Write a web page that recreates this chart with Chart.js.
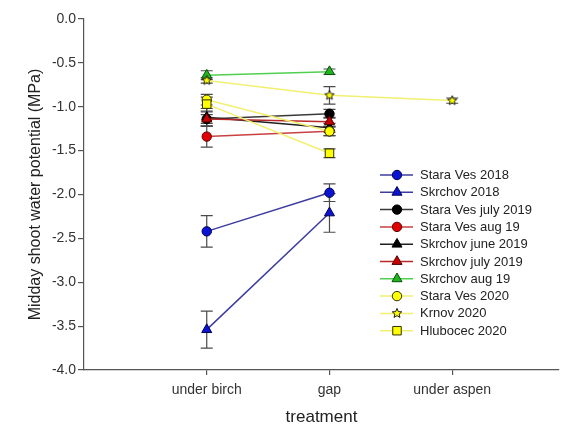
<!DOCTYPE html>
<html>
<head>
<meta charset="utf-8">
<script src="https://cdn.jsdelivr.net/npm/chart.js@4.4.0/dist/chart.umd.min.js"></script>
<style>
    html, body { margin: 0; padding: 0; background: #fff; }
</style>
</head>
<body>
<canvas id="waterChart" width="566" height="425"></canvas>
<script>
const treatments = ['under birch', 'gap', 'under aspen'];

const seriesNames = [
    'Stara Ves 2018', 'Skrchov 2018', 'Stara Ves july 2019', 'Stara Ves aug 19',
    'Skrchov june 2019', 'Skrchov july 2019', 'Skrchov aug 19',
    'Stara Ves 2020', 'Krnov 2020', 'Hlubocec 2020'
];

// mean values per treatment (null = not measured)
const staraVes2018 = [-2.42, -1.98, null];
const skrchov2018 = [-3.54, -2.21, null];
const staraVesJuly2019 = [-1.14, -1.08, null];
const staraVesAug19 = [-1.34, -1.28, null];
const skrchovJune2019 = [-1.12, -1.24, null];
const skrchovJuly2019 = [-1.14, -1.17, null];
const skrchovAug19 = [-0.64, -0.60, null];
const staraVes2020 = [-0.92, -1.28, null];
const krnov2020 = [-0.70, -0.87, -0.93];
const hlubocec2020 = [-0.97, -1.53, null];

// standard errors
const staraVes2018Err = [0.18, 0.10, null];
const skrchov2018Err = [0.21, 0.22, null];
const staraVesJuly2019Err = [0.08, 0.05, null];
const staraVesAug19Err = [0.12, 0.05, null];
const skrchovJune2019Err = [0.10, 0.05, null];
const skrchovJuly2019Err = [0.05, 0.05, null];
const skrchovAug19Err = [0.05, 0.03, null];
const staraVes2020Err = [0.06, 0.05, null];
const krnov2020Err = [0.03, 0.10, 0.03];
const hlubocec2020Err = [0.08, 0.05, null];

const allValues = [staraVes2018, skrchov2018, staraVesJuly2019, staraVesAug19, skrchovJune2019,
    skrchovJuly2019, skrchovAug19, staraVes2020, krnov2020, hlubocec2020];
const allErrors = [staraVes2018Err, skrchov2018Err, staraVesJuly2019Err, staraVesAug19Err, skrchovJune2019Err,
    skrchovJuly2019Err, skrchovAug19Err, staraVes2020Err, krnov2020Err, hlubocec2020Err];

// look of each series
const styles = [
    { line: '#3c3ca0', fill: '#0a14d2', edge: '#000050', shape: 'circle' },
    { line: '#3c3ca0', fill: '#0a14d2', edge: '#000050', shape: 'triangle' },
    { line: '#3a3a3a', fill: '#000000', edge: '#000000', shape: 'circle' },
    { line: '#c84040', fill: '#e00000', edge: '#600000', shape: 'circle' },
    { line: '#202020', fill: '#000000', edge: '#000000', shape: 'triangle' },
    { line: '#b82828', fill: '#c80000', edge: '#500000', shape: 'triangle' },
    { line: '#50d050', fill: '#20b420', edge: '#0a500a', shape: 'triangle' },
    { line: '#f2f070', fill: '#ffff00', edge: '#303000', shape: 'circle' },
    { line: '#f2f070', fill: '#ffff00', edge: '#202020', shape: 'star' },
    { line: '#f2f070', fill: '#ffff00', edge: '#303000', shape: 'rect' }
];
const radii = { circle: 4.7, triangle: 5.8, rect: 6, star: 5 };

function starPath(ctx, x, y, r) {
    ctx.beginPath();
    for (let k = 0; k < 10; k++) {
        const rr = k % 2 === 0 ? r : r * 0.45;
        const a = -Math.PI / 2 + k * Math.PI / 5;
        const px = x + Math.cos(a) * rr, py = y + Math.sin(a) * rr;
        if (k === 0) ctx.moveTo(px, py); else ctx.lineTo(px, py);
    }
    ctx.closePath();
}

function makeStar(r, fill, edge) {
    const c = document.createElement('canvas');
    c.width = c.height = r * 2 + 2;
    const g = c.getContext('2d');
    starPath(g, r + 1, r + 1, r);
    g.fillStyle = fill;
    g.fill();
    g.strokeStyle = edge;
    g.lineWidth = 1;
    g.stroke();
    return c;
}

function drawMarker(ctx, st, x, y) {
    const r = radii[st.shape];
    ctx.save();
    ctx.fillStyle = st.fill;
    ctx.strokeStyle = st.edge;
    ctx.lineWidth = 1;
    if (st.shape === 'circle') {
        ctx.beginPath();
        ctx.arc(x, y, r, 0, Math.PI * 2);
    } else if (st.shape === 'triangle') {
        ctx.beginPath();
        let a = 0;
        for (let k = 0; k < 3; k++) {
            const px = x + Math.sin(a) * r, py = y - Math.cos(a) * r;
            if (k === 0) ctx.moveTo(px, py); else ctx.lineTo(px, py);
            a += Math.PI * 2 / 3;
        }
        ctx.closePath();
    } else if (st.shape === 'rect') {
        const s = r * Math.SQRT1_2;
        ctx.beginPath();
        ctx.rect(x - s, y - s, 2 * s, 2 * s);
    } else {
        starPath(ctx, x, y, r);
    }
    ctx.fill();
    ctx.stroke();
    ctx.restore();
}

const errorBars = {
    id: 'errorBars',
    beforeDatasetsDraw(chart) {
        const ctx = chart.ctx;
        const xs = chart.scales.x, ys = chart.scales.y;
        ctx.save();
        ctx.strokeStyle = '#4a4a4a';
        ctx.lineWidth = 1.2;
        chart.data.datasets.forEach(ds => {
            ds.data.forEach((p, i) => {
                const e = ds.errors[i];
                if (!e) return;
                const px = xs.getPixelForValue(p.x);
                const top = ys.getPixelForValue(p.y + e);
                const bot = ys.getPixelForValue(p.y - e);
                ctx.beginPath();
                ctx.moveTo(px, top); ctx.lineTo(px, bot);
                ctx.moveTo(px - 6, top); ctx.lineTo(px + 6, top);
                ctx.moveTo(px - 6, bot); ctx.lineTo(px + 6, bot);
                ctx.stroke();
            });
        });
        ctx.restore();
    }
};

const sideLegend = {
    id: 'sideLegend',
    afterDraw(chart) {
        const ctx = chart.ctx;
        ctx.save();
        ctx.font = '13px "Liberation Sans", Arial, sans-serif';
        ctx.textBaseline = 'middle';
        ctx.fillStyle = '#222';
        seriesNames.forEach((name, i) => {
            const y = 175 + i * 17.3;
            const st = styles[i];
            ctx.strokeStyle = st.line;
            ctx.lineWidth = 1.5;
            ctx.beginPath();
            ctx.moveTo(380, y); ctx.lineTo(413, y);
            ctx.stroke();
            drawMarker(ctx, st, 397, y);
            ctx.fillText(name, 420, y + 0.5);
        });
        ctx.restore();
    }
};

const datasets = allValues.map((vals, i) => {
    const st = styles[i];
    const pts = [];
    const errs = [];
    vals.forEach((v, j) => {
        if (v !== null) {
            pts.push({ x: j + 1, y: v });
            errs.push(allErrors[i][j]);
        }
    });
    return {
        label: seriesNames[i],
        data: pts,
        errors: errs,
        order: allValues.length - i,
        borderColor: st.line,
        borderWidth: 1.5,
        tension: 0,
        pointStyle: st.shape === 'star' ? makeStar(radii.star, st.fill, st.edge) : st.shape,
        pointRadius: radii[st.shape],
        pointHoverRadius: radii[st.shape],
        pointBackgroundColor: st.fill,
        pointBorderColor: st.edge,
        pointBorderWidth: 1
    };
});

const tickFont = { family: '"Liberation Sans", Arial, sans-serif', size: 14 };

new Chart(document.getElementById('waterChart'), {
    type: 'line',
    data: { datasets: datasets },
    options: {
        responsive: false,
        animation: false,
        events: [],
        layout: { padding: { top: 19, right: 6, left: 0, bottom: 0 } },
        plugins: { legend: { display: false }, tooltip: { enabled: false } },
        scales: {
            x: {
                type: 'linear',
                min: 0,
                max: 3.87,
                afterBuildTicks: axis => { axis.ticks = [1, 2, 3].map(v => ({ value: v })); },
                afterFit: s => { s.height = 55; },
                ticks: {
                    callback: v => treatments[v - 1],
                    font: tickFont,
                    color: '#333',
                    padding: 7,
                    maxRotation: 0
                },
                grid: { drawOnChartArea: false, tickLength: 5, color: '#555', lineWidth: 1.2 },
                border: { color: '#555', width: 1.2 },
                title: {
                    display: true,
                    text: 'treatment',
                    color: '#222',
                    font: { family: '"Liberation Sans", Arial, sans-serif', size: 17, lineHeight: 1 },
                    padding: { bottom: -1 }
                }
            },
            y: {
                min: -4,
                max: 0,
                afterFit: s => { s.width = 84; },
                ticks: {
                    stepSize: 0.5,
                    callback: v => v.toFixed(1),
                    font: tickFont,
                    color: '#333',
                    padding: 2
                },
                grid: { drawOnChartArea: false, tickLength: 6, color: '#555', lineWidth: 1.2 },
                border: { color: '#555', width: 1.2 },
                title: {
                    display: true,
                    text: 'Midday shoot water potential (MPa)',
                    color: '#222',
                    font: { family: '"Liberation Sans", Arial, sans-serif', size: 16, lineHeight: 1.2 },
                    padding: { top: 26 }
                }
            }
        }
    },
    plugins: [errorBars, sideLegend]
});
</script>
</body>
</html>
